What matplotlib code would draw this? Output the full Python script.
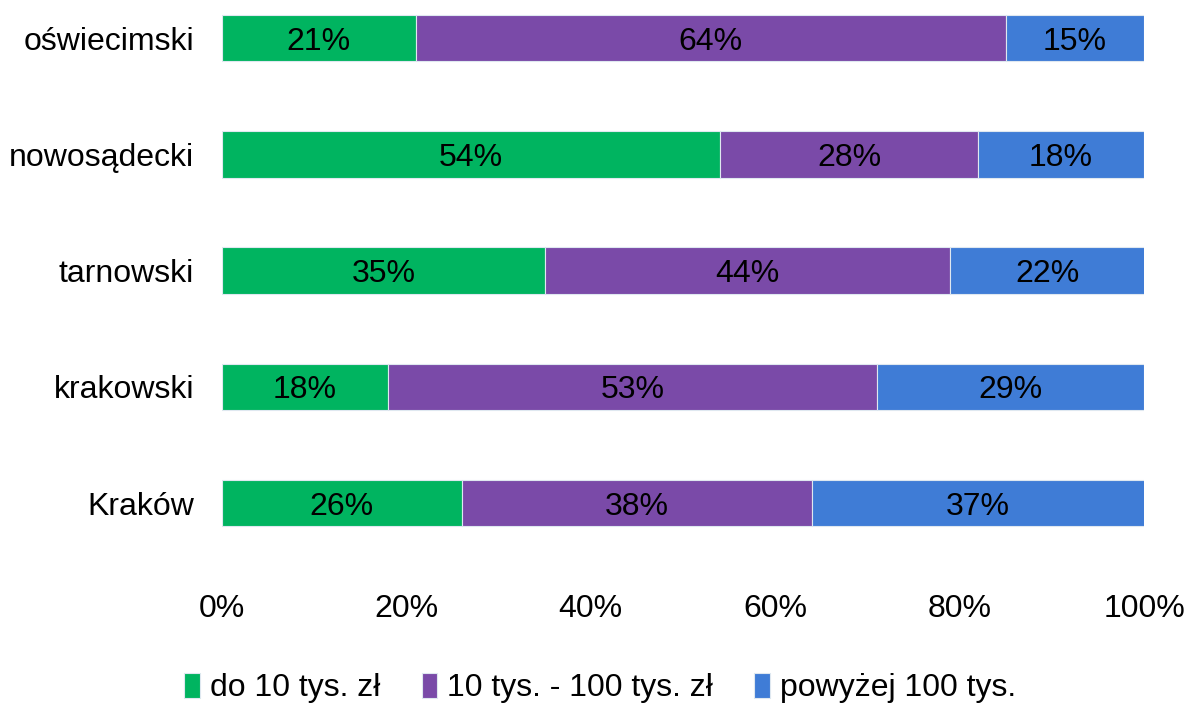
import numpy as np
import matplotlib.pyplot as plt

# -------------------------------
# DATA
# -------------------------------
categories = ["oświecimski", "nowosądecki", "tarnowski", "krakowski", "Kraków"]
series_names = ["do 10 tys. zł", "10 tys. - 100 tys. zł", "powyżej 100 tys."]
low = [21, 54, 35, 18, 26]
mid = [64, 28, 44, 53, 38]
high = [15, 18, 22, 29, 37]
xticks = [0, 20, 40, 60, 80, 100]
xtick_labels = ["0%", "20%", "40%", "60%", "80%", "100%"]

colors = ["#00B460", "#7A4AA8", "#3F7CD6"]

plt.rcParams["font.family"] = ["Liberation Sans", "DejaVu Sans"]

W, H = 1186, 704
fig = plt.figure(figsize=(W / 100, H / 100), dpi=100)
ax = fig.add_axes([222 / W, (H - 580) / H, 922 / W, 580 / H])

y = np.arange(len(categories))
left = np.zeros(len(categories))
for name, vals, col in zip(series_names, [low, mid, high], colors):
    bars = ax.barh(y, vals, left=left, height=0.4, color=col,
                   edgecolor="#dfe8f0", linewidth=0.8, label=name)
    anns = ax.bar_label(bars, labels=[f"{v}%" for v in vals],
                        label_type="center", fontsize=23, color="black")
    for a in anns:
        a.set_va("center_baseline")
    left += np.array(vals)

ax.set_xlim(0, 100)
ax.set_ylim(4.662, -0.327)
ax.set_yticks(y)
ax.set_yticklabels(categories, fontsize=23)
ax.set_xticks(xticks)
ax.set_xticklabels(xtick_labels, fontsize=23)
ax.tick_params(axis="y", length=0, pad=20)
ax.tick_params(axis="x", length=0, pad=10)
for s in ax.spines.values():
    s.set_visible(False)

fig.legend(loc="lower center", bbox_to_anchor=(0.506, -0.04), ncol=3,
           frameon=False, fontsize=23, handlelength=0.5, handleheight=0.8,
           handletextpad=0.3, columnspacing=1.3)

fig.savefig("out.png", dpi=100)
plt.close()
